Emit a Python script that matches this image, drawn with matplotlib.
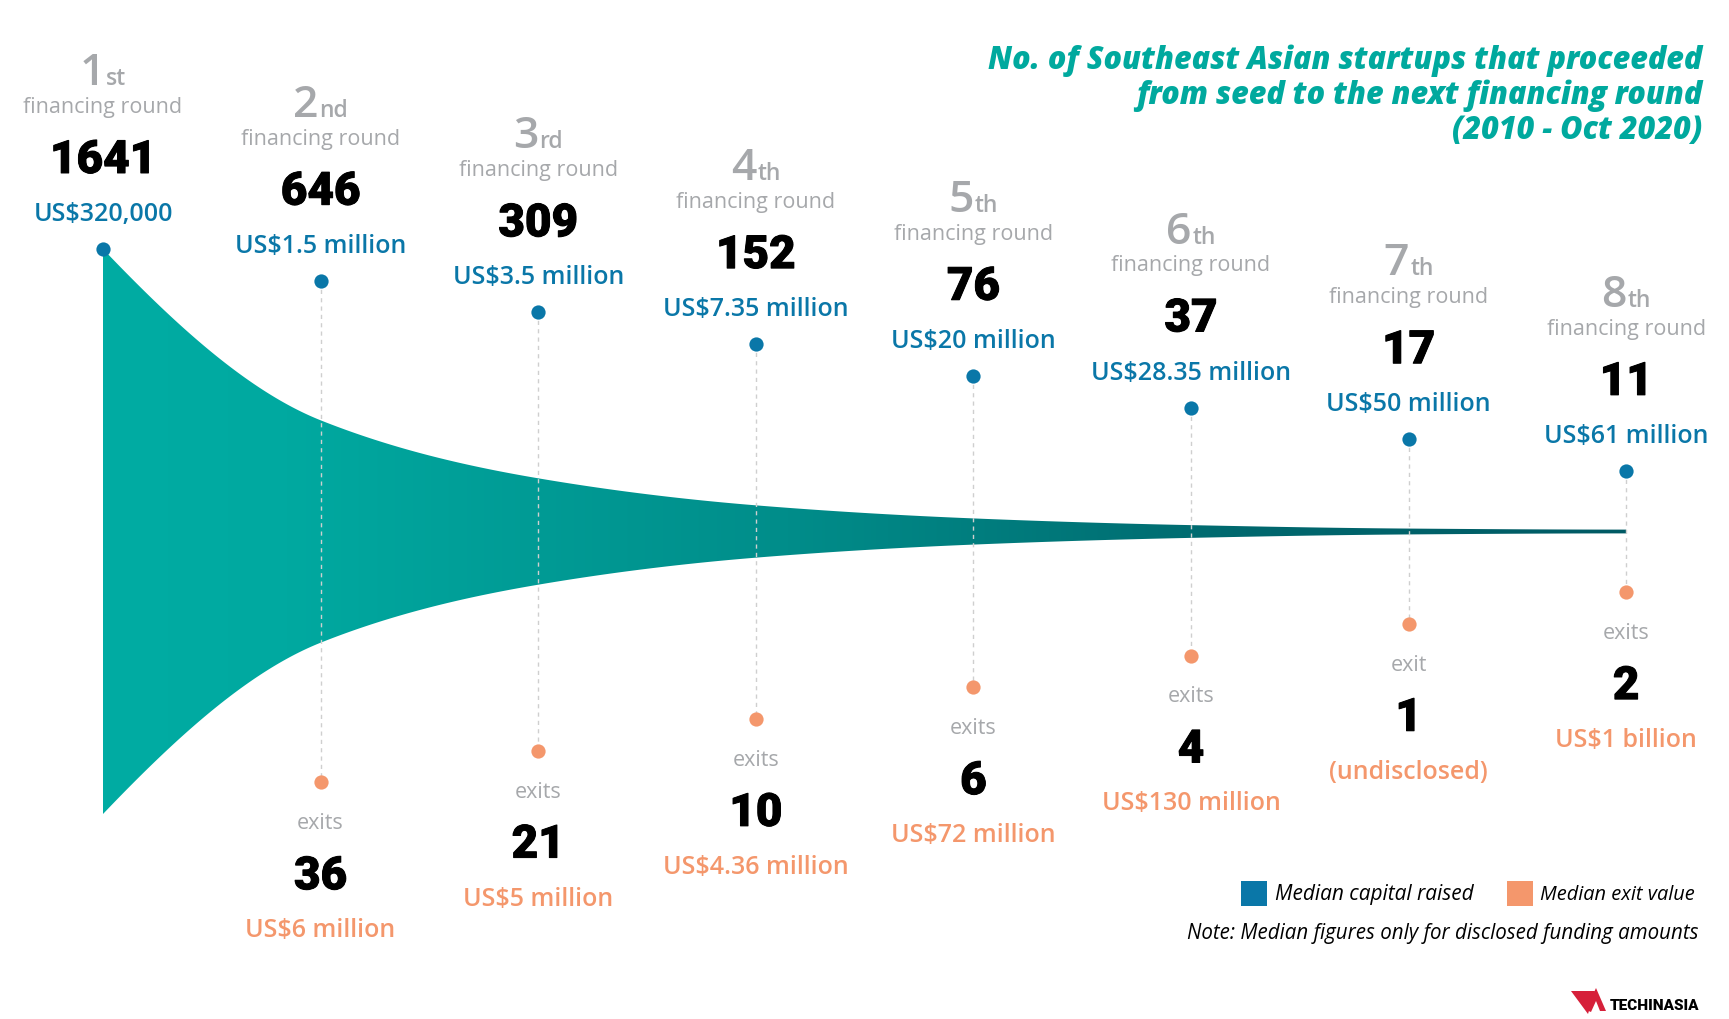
import numpy as np
import matplotlib
matplotlib.use("Agg")
import matplotlib.pyplot as plt
import matplotlib.transforms as mtransforms
import matplotlib.patheffects as pe
from matplotlib.colors import LinearSegmentedColormap
from matplotlib.patches import Polygon, Rectangle

# ---------------- data ----------------
rounds = np.arange(1, 9)
ordinal_digits = ["1", "2", "3", "4", "5", "6", "7", "8"]
ordinal_suffixes = ["st", "nd", "rd", "th", "th", "th", "th", "th"]
startups = np.array([1641, 646, 309, 152, 76, 37, 17, 11])
capital_labels = ["US$320,000", "US$1.5 million", "US$3.5 million", "US$7.35 million",
                  "US$20 million", "US$28.35 million", "US$50 million", "US$61 million"]
exit_rounds = np.arange(2, 9)
exit_counts = [36, 21, 10, 6, 4, 1, 2]
exit_words = ["exits", "exits", "exits", "exits", "exits", "exit", "exits"]
exit_value_labels = ["US$6 million", "US$5 million", "US$4.36 million", "US$72 million",
                     "US$130 million", "(undisclosed)", "US$1 billion"]

title_lines = ["No. of Southeast Asian startups that proceeded",
               "from seed to the next financing round",
               "(2010 - Oct 2020)"]
legend_labels = ["Median capital raised", "Median exit value"]
note_text = "Note: Median figures only for disclosed funding amounts"

# ---------------- style ----------------
BLUE = "#0A77A8"
ORANGE = "#F4976C"
GRAY = "#A6A8AB"
TITLE_C = "#00A99E"
DASH_C = "#CFCFCF"

W, H = 1729, 1019
X0, DX = 103, 217.6          # pixel x of round 1, spacing between rounds
CY, HALF, STEP = 531.5, 282.5, 31.7

fig = plt.figure(figsize=(W / 100, H / 100), dpi=100)
fig.patch.set_facecolor("white")
ax = fig.add_axes([0, 0, 1, 1])
ax.set_xlim(1 - X0 / DX, 1 + (W - X0) / DX)
ax.set_ylim(H, 0)
ax.axis("off")

ov = fig.add_axes([0, 0, 1, 1], zorder=3)
ov.set_xlim(0, W)
ov.set_ylim(H, 0)
ov.axis("off")
ov.patch.set_alpha(0)


def pchip(xk, yk, x):
    xk = np.asarray(xk, float)
    yk = np.asarray(yk, float)
    h = np.diff(xk)
    delta = np.diff(yk) / h
    n = len(xk)
    d = np.zeros(n)
    for k in range(1, n - 1):
        if delta[k - 1] * delta[k] > 0:
            w1 = 2 * h[k] + h[k - 1]
            w2 = h[k] + 2 * h[k - 1]
            d[k] = (w1 + w2) / (w1 / delta[k - 1] + w2 / delta[k])

    def end(h0, h1, d0, d1):
        dd = ((2 * h0 + h1) * d0 - h0 * d1) / (h0 + h1)
        if np.sign(dd) != np.sign(d0):
            dd = 0.0
        elif np.sign(d0) != np.sign(d1) and abs(dd) > abs(3 * d0):
            dd = 3 * d0
        return dd

    d[0] = end(h[0], h[1], delta[0], delta[1])
    d[-1] = end(h[-1], h[-2], delta[-1], delta[-2])
    idx = np.clip(np.searchsorted(xk, x) - 1, 0, n - 2)
    t = (x - xk[idx]) / h[idx]
    hh = h[idx]
    h00 = 2 * t**3 - 3 * t**2 + 1
    h10 = t**3 - 2 * t**2 + t
    h01 = -2 * t**3 + 3 * t**2
    h11 = t**3 - t**2
    return h00 * yk[idx] + h10 * hh * d[idx] + h01 * yk[idx + 1] + h11 * hh * d[idx + 1]


# ---------------- funnel ----------------
xf = np.linspace(rounds[0], rounds[-1], 800)
cf = pchip(rounds, startups, xf)
half = cf / startups[0] * HALF
top = CY - half
bot = CY + half
verts = np.concatenate([np.column_stack([xf, top]), np.column_stack([xf[::-1], bot[::-1]])])
poly = Polygon(verts, closed=True, facecolor="none", edgecolor="none")
ax.add_patch(poly)
cmap = LinearSegmentedColormap.from_list(
    "funnel", [(0.0, "#00ACA3"), (0.12, "#00A9A0"), (0.45, "#008D8A"),
               (0.75, "#00686E"), (1.0, "#005A64")])
grad = np.linspace(0, 1, 512).reshape(1, -1)
im = ax.imshow(grad, cmap=cmap, extent=(rounds[0], rounds[-1], CY + HALF, CY - HALF),
               aspect="auto", interpolation="bilinear", zorder=1)
im.set_clip_path(poly)

# ---------------- dots and dashed connectors ----------------
blue_y = CY - HALF + STEP * (rounds - 1)
orange_y = CY + HALF - STEP * (exit_rounds - 1)
for xr, yb, yo in zip(exit_rounds, blue_y[1:], orange_y):
    ax.plot([xr, xr], [yb, yo], color=DASH_C, lw=1.0, ls=(0, (3, 3)), zorder=2)
ax.scatter(rounds, blue_y, s=105, color=BLUE, zorder=4, linewidths=0)
ax.scatter(exit_rounds, orange_y, s=105, color=ORANGE, zorder=4, linewidths=0)

# ---------------- labels ----------------
NUM_FONT = dict(family="Roboto", fontweight="black", fontsize=33, color="black",
                path_effects=[pe.withStroke(linewidth=0.7, foreground="black")])
renderer = fig.canvas.get_renderer()
for i, xr in enumerate(rounds):
    D = blue_y[i]
    t1 = ax.text(xr, D - 164, ordinal_digits[i], ha="left", va="baseline",
                 fontsize=32, color=GRAY, family="Open Sans", fontweight="semibold")
    t2 = ax.text(xr, D - 164, ordinal_suffixes[i], ha="left", va="baseline",
                 fontsize=16.5, color=GRAY, family="Open Sans", fontweight="semibold")
    w1 = t1.get_window_extent(renderer).width
    w2 = t2.get_window_extent(renderer).width
    tot = w1 + 1 + w2
    t1.set_transform(ax.transData + mtransforms.Affine2D().translate(-tot / 2, 0))
    t2.set_transform(ax.transData + mtransforms.Affine2D().translate(-tot / 2 + w1 + 1, 0))
    ax.text(xr, D - 136, "financing round", ha="center", va="baseline",
            fontsize=15.5, color=GRAY, family="Open Sans", fontweight="medium")
    ax.text(xr, D - 76, f"{startups[i]}", ha="center", va="baseline", **NUM_FONT)
    ax.text(xr, D - 28, capital_labels[i], ha="center", va="baseline",
            fontsize=18, color=BLUE, family="Open Sans", fontweight="semibold")

for j, xr in enumerate(exit_rounds):
    O = orange_y[j]
    ax.text(xr, O + 47, exit_words[j], ha="center", va="baseline",
            fontsize=15.5, color=GRAY, family="Open Sans", fontweight="medium")
    ax.text(xr, O + 107, f"{exit_counts[j]}", ha="center", va="baseline", **NUM_FONT)
    ax.text(xr, O + 155, exit_value_labels[j], ha="center", va="baseline",
            fontsize=18, color=ORANGE, family="Open Sans", fontweight="semibold")

# ---------------- title ----------------
for k, line in enumerate(title_lines):
    ov.text(1702, 69 + 35 * k, line, ha="right", va="baseline", fontsize=22,
            color=TITLE_C, family="Open Sans", fontweight="extra bold", fontstyle="italic")

# ---------------- legend & note ----------------
ov.add_patch(Rectangle((1241, 881), 26, 25, facecolor=BLUE, edgecolor="none"))
ov.text(1275, 900, legend_labels[0], ha="left", va="baseline", fontsize=15,
        family="Open Sans", fontstyle="italic", color="black")
ov.add_patch(Rectangle((1507, 881), 26, 25, facecolor=ORANGE, edgecolor="none"))
ov.text(1540, 900, legend_labels[1], ha="left", va="baseline", fontsize=14.4,
        family="Open Sans", fontstyle="italic", color="black")
ov.text(1699, 939, note_text, ha="right", va="baseline", fontsize=14.8,
        family="Open Sans", fontstyle="italic", color="black")

# ---------------- logo ----------------
RED = "#D6203A"
ov.add_patch(Polygon([[1571, 991], [1595, 991], [1588, 1014]], closed=True,
                     facecolor=RED, edgecolor="none"))
ov.add_patch(Polygon([[1586, 1010], [1596, 988], [1606, 1011], [1600, 1011], [1596, 1001], [1591, 1012]],
                     closed=True, facecolor=RED, edgecolor="none"))
ov.text(1699, 1010, "TECHINASIA", ha="right", va="baseline", fontsize=11,
        family="Roboto", fontweight="black", color="black")

fig.savefig("out.png", dpi=100, facecolor="white")
